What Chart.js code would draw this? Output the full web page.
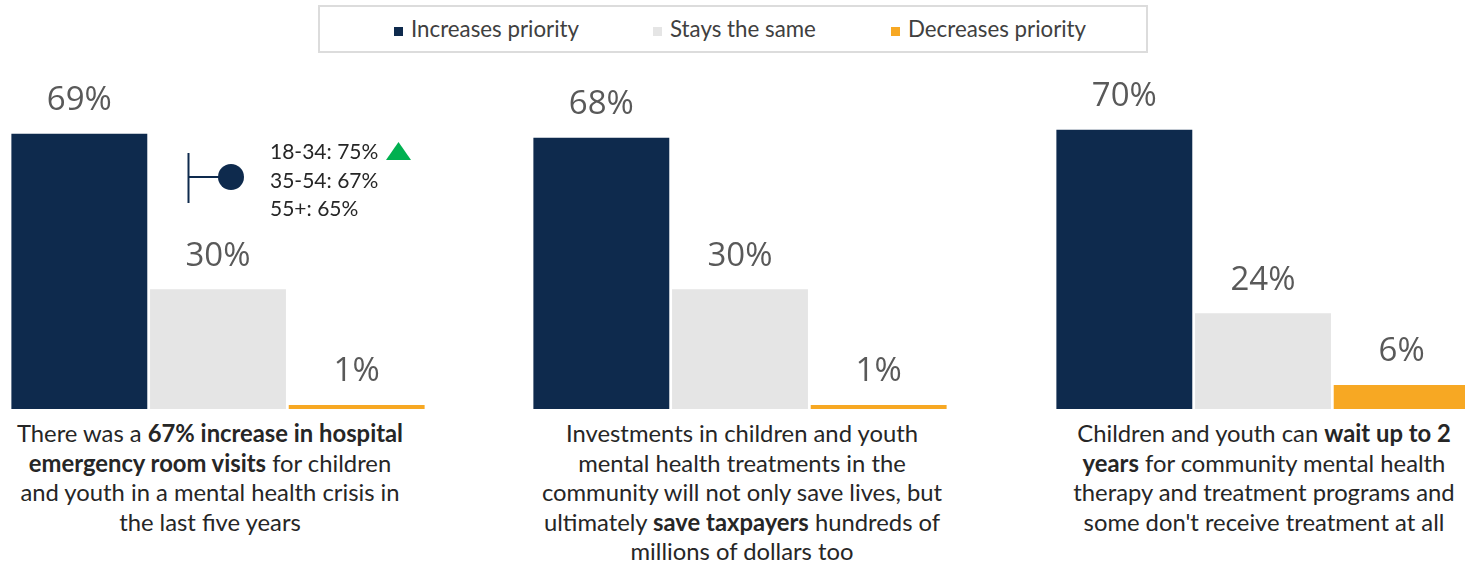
<!DOCTYPE html>
<html>
<head>
<meta charset="utf-8">
<script src="https://cdn.jsdelivr.net/npm/chart.js@4"></script>
<style>
  html, body { margin: 0; padding: 0; background: #fff; }
  body { width: 1465px; height: 561px; position: relative; overflow: hidden; font-family: Lato, sans-serif; }
  .legend { position: absolute; left: 318px; top: 5px; width: 826px; height: 44px; border: 2px solid #dcdcdc; box-sizing: content-box; }
  .legend-item { position: absolute; top: 0; height: 44px; line-height: 44px; font-size: 22.3px; color: #404040; white-space: nowrap; }
  .legend-item i { display: inline-block; width: 9px; height: 9px; margin-right: 8px; vertical-align: 1px; }
  .panel { position: absolute; top: 60px; width: 416px; height: 349px; }
  .caption { position: absolute; top: 419px; width: 440px; text-align: center; font-size: 23.8px; line-height: 29.5px; color: #262626; }
  .caption b { font-weight: 700; }
  .ages { position: absolute; left: 270px; top: 137px; font-size: 21px; line-height: 28.5px; color: #262626; }
  .marker { position: absolute; left: 180px; top: 145px; }
</style>
</head>
<body>

<div class="legend" id="legend"></div>

<div class="panel" style="left:10px"><canvas id="c0"></canvas></div>
<div class="panel" style="left:532px"><canvas id="c1"></canvas></div>
<div class="panel" style="left:1055px"><canvas id="c2"></canvas></div>

<svg class="marker" width="70" height="70">
  <line x1="8.5" y1="8" x2="8.5" y2="58" stroke="#0e2a4d" stroke-width="2"/>
  <line x1="8" y1="32" x2="42" y2="32" stroke="#0e2a4d" stroke-width="2"/>
  <circle cx="51" cy="32" r="13" fill="#0e2a4d"/>
</svg>
<div class="ages" id="ages"></div>

<div class="caption" style="left:-10px">There was a <b>67% increase in hospital<br>emergency room visits</b> for children<br>and youth in a mental health crisis in<br>the last five years</div>
<div class="caption" style="left:522px">Investments in children and youth<br>mental health treatments in the<br>community will not only save lives, but<br>ultimately <b>save taxpayers</b> hundreds of<br>millions of dollars too</div>
<div class="caption" style="left:1044px">Children and youth can <b>wait up to 2<br>years</b> for community mental health<br>therapy and treatment programs and<br>some don't receive treatment at all</div>

<script>
const seriesNames = ['Increases priority', 'Stays the same', 'Decreases priority'];
const seriesColors = ['#0e2a4d', '#e5e5e5', '#f7a823'];

const increases = [69, 68, 70];
const staysSame = [30, 30, 24];
const decreases = [1, 1, 6];

const ageGroups = ['18-34', '35-54', '55+'];
const ageValues = [75, 67, 65];

// legend
const legend = document.getElementById('legend');
const legendLeft = [74, 333, 571];
seriesNames.forEach((name, i) => {
  const item = document.createElement('div');
  item.className = 'legend-item';
  item.style.left = legendLeft[i] + 'px';
  item.innerHTML = `<i style="background:${seriesColors[i]}"></i>${name}`;
  legend.appendChild(item);
});

// age breakdown
const ages = document.getElementById('ages');
ageGroups.forEach((g, i) => {
  const line = document.createElement('div');
  line.innerHTML = `${g}: ${ageValues[i]}%` + (i === 0
    ? ' <svg width="25" height="18" style="vertical-align:-1px;margin-left:2px"><polygon points="12.5,0 25,18 0,18" fill="#00b050"/></svg>'
    : '');
  ages.appendChild(line);
});

const valueLabels = {
  id: 'valueLabels',
  afterDatasetsDraw(chart) {
    const c = chart.ctx;
    const meta = chart.getDatasetMeta(0);
    c.save();
    c.font = '33px "Open Sans"';
    c.fillStyle = '#595959';
    c.textAlign = 'center';
    c.textBaseline = 'middle';
    meta.data.forEach((bar, i) => {
      c.fillText(chart.data.datasets[0].data[i] + '%', bar.x, bar.y - 33);
    });
    c.restore();
  }
};

function makeChart(idx) {
  const ctx = document.getElementById('c' + idx).getContext('2d');
  return new Chart(ctx, {
    type: 'bar',
    data: {
      labels: seriesNames,
      datasets: [{
        data: [increases[idx], staysSame[idx], decreases[idx]],
        backgroundColor: seriesColors,
        borderWidth: 0,
        barPercentage: 0.98,
        categoryPercentage: 1
      }]
    },
    options: {
      responsive: true,
      maintainAspectRatio: false,
      animation: false,
      layout: { padding: 0 },
      plugins: { legend: { display: false }, tooltip: { enabled: false } },
      scales: {
        x: { display: false },
        y: { display: false, min: 0, max: 87.5 }
      }
    },
    plugins: [valueLabels]
  });
}

[0, 1, 2].forEach(makeChart);
</script>
</body>
</html>
